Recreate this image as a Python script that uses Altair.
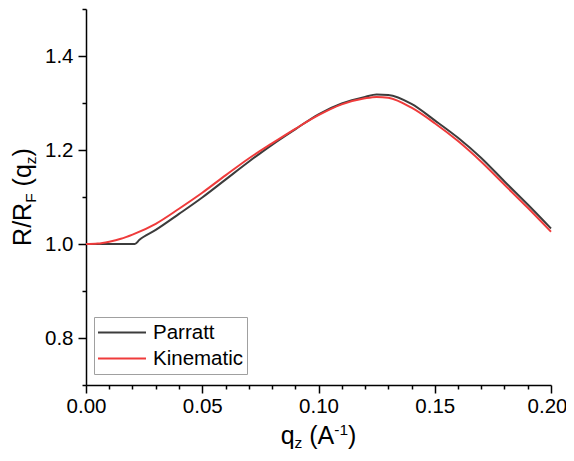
import altair as alt
import pandas as pd

# ---- data ----
q_parratt = [0.0, 0.01, 0.021, 0.023, 0.03, 0.04, 0.05, 0.06, 0.07, 0.08, 0.09, 0.10,
             0.11, 0.12, 0.125, 0.13, 0.14, 0.15, 0.16, 0.17, 0.18, 0.19, 0.20]
r_parratt = [1.000, 1.000, 1.000, 1.009, 1.030, 1.064, 1.099, 1.137, 1.175, 1.211, 1.244, 1.276,
             1.299, 1.313, 1.318, 1.317, 1.298, 1.263, 1.226, 1.183, 1.133, 1.084, 1.033]

q_kin = [0.0, 0.005, 0.01, 0.015, 0.02, 0.03, 0.04, 0.05, 0.06, 0.07, 0.08, 0.09, 0.10,
         0.11, 0.12, 0.125, 0.13, 0.14, 0.15, 0.16, 0.17, 0.18, 0.19, 0.20]
r_kin = [1.000, 1.001, 1.005, 1.011, 1.020, 1.043, 1.075, 1.109, 1.146, 1.182, 1.214, 1.245, 1.274,
         1.297, 1.310, 1.313, 1.311, 1.290, 1.257, 1.219, 1.175, 1.126, 1.077, 1.026]

series_names = ["Parratt", "Kinematic"]
series_colors = ["#3c3c3c", "#ef3b3b"]

x_ticks = [round(i * 0.01, 2) for i in range(21)]
y_ticks = [round(0.7 + i * 0.1, 1) for i in range(9)]

df = pd.concat([
    pd.DataFrame({"q": q_parratt, "r": r_parratt, "series": series_names[0]}),
    pd.DataFrame({"q": q_kin, "r": r_kin, "series": series_names[1]}),
])

W, H = 465, 376
FONT = "Liberation Sans"

lines = alt.Chart(df).mark_line(strokeWidth=2, interpolate="monotone").encode(
    x=alt.X("q:Q", scale=alt.Scale(domain=[0, 0.2], nice=False, zero=False),
            axis=alt.Axis(values=x_ticks, title=None, grid=False,
                          labelExpr="round(datum.value*100) % 5 == 0 ? format(datum.value, '.2f') : ''",
                          tickSize={"condition": {"test": "round(datum.value*100) % 5 == 0", "value": 8}, "value": 4},
                          labelOffset={"condition": {"test": "datum.value > 0.195", "value": -4}, "value": 0},
                          labelFontSize=20.5, labelFont=FONT, labelColor="black", labelPadding=3,
                          domainColor="black", domainWidth=1.5, tickColor="black", tickWidth=1.5,
                          labelFlush=False, labelOverlap=False)),
    y=alt.Y("r:Q", scale=alt.Scale(domain=[0.7, 1.5], nice=False, zero=False),
            axis=alt.Axis(values=y_ticks, title=None, grid=False,
                          labelExpr="round(datum.value*10) % 2 == 0 ? format(datum.value, '.1f') : ''",
                          tickSize={"condition": {"test": "round(datum.value*10) % 2 == 0", "value": 8}, "value": 4},
                          labelFontSize=20.5, labelFont=FONT, labelColor="black", labelPadding=5,
                          domainColor="black", domainWidth=1.5, tickColor="black", tickWidth=1.5,
                          labelFlush=False, labelOverlap=False)),
    color=alt.Color("series:N", sort=series_names,
                    scale=alt.Scale(domain=series_names, range=series_colors),
                    legend=alt.Legend(orient="none", legendX=8, legendY=308, title=None,
                                      strokeColor="#a0a0a0", padding=3,
                                      symbolType="stroke", symbolSize=2304, symbolStrokeWidth=2,
                                      symbolOpacity=1, clipHeight=25, rowPadding=1,
                                      labelFontSize=20.5, labelFont=FONT, labelColor="black",
                                      labelOffset=6, fillColor="white")),
)

# ---- axis titles built from pieces (for sub/superscripts) ----
MAIN, SUB = 25, 15.5
EM = {"q": 0.556, "z": 0.5, " ": 0.278, "(": 0.333, ")": 0.333, "A": 0.667,
      "-": 0.333, "1": 0.556, "R": 0.722, "/": 0.278, "F": 0.611}

def w(text, size):
    return sum(EM[c] for c in text) * size

def text_layer(t, x, y, size, angle=0):
    return alt.Chart(pd.DataFrame({"t": [t]})).mark_text(
        align="left", baseline="alphabetic", font=FONT, fontSize=size, color="black", angle=angle
    ).encode(text="t:N", x=alt.value(x), y=alt.value(y))

# pieces: (text, size, baseline shift); a leading space is drawn as an offset
def build(pieces, start, base, step_sign, rotated):
    layers = []
    pos = start
    for t, s, off in pieces:
        lead = len(t) - len(t.lstrip(" "))
        pos += step_sign * w(" " * lead, s)
        body = t.lstrip(" ")
        if rotated:
            layers.append(text_layer(body, base + off, pos, s, angle=270))
        else:
            layers.append(text_layer(body, pos, base + off, s))
        pos += step_sign * w(body, s)
    return layers

# x title: q_z (A^-1)
xt_pieces = [("q", MAIN, 0), ("z", SUB, 4), (" (A", MAIN, 0), ("-1", SUB, -9), (")", MAIN, 0)]
xt_total = sum(w(t, s) for t, s, _ in xt_pieces)
xlayers = build(xt_pieces, W / 2 - xt_total / 2, 435, 1, False)

# y title: R/R_F (q_z), rotated
yt_pieces = [("R/R", MAIN, 0), ("F", SUB, 5), (" (q", MAIN, 0), ("z", SUB, 5), (")", MAIN, 0)]
yt_total = sum(w(t, s) for t, s, _ in yt_pieces)
ylayers = build(yt_pieces, H / 2 + yt_total / 2, -55, -1, True)

chart = alt.layer(lines, *xlayers, *ylayers).properties(
    width=W, height=H,
    autosize=alt.AutoSizeParams(type="none"),
    padding={"left": 78, "top": 1, "right": 15, "bottom": 66},
).configure_view(stroke=None)

chart.save("out.html", embed_options={"renderer": "svg", "actions": False})
